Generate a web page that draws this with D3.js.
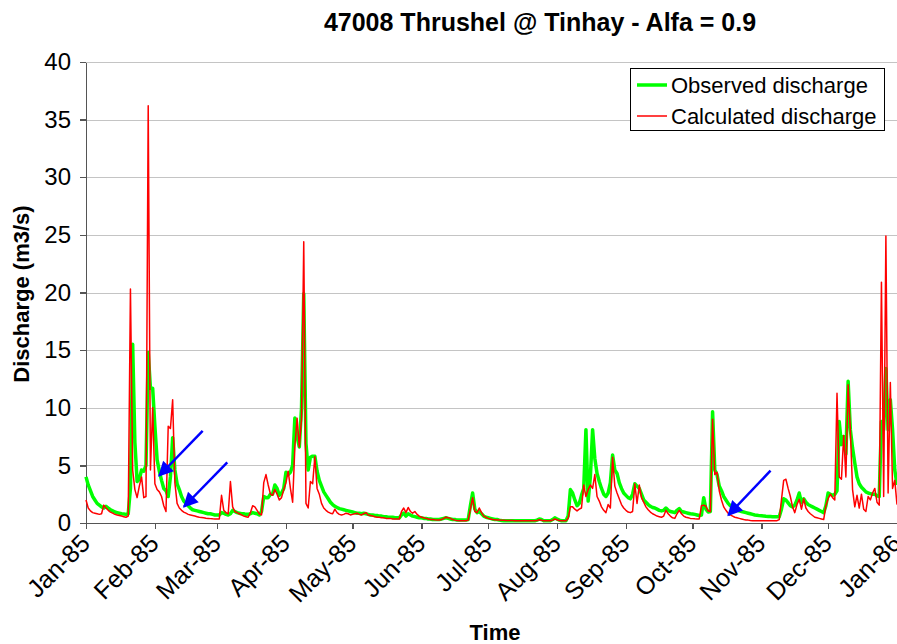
<!DOCTYPE html>
<html>
<head>
<meta charset="utf-8">
<title>47008 Thrushel @ Tinhay</title>
<script src="https://d3js.org/d3.v7.min.js"></script>
<style>
  body { margin: 0; background: #fff; }
  text { font-family: "Liberation Sans", Arial, sans-serif; fill: #000; }
  .grid line { stroke: #c4c4c4; stroke-width: 1px; shape-rendering: crispEdges; }
  .axis path, .axis line { stroke: #555; stroke-width: 1.3px; shape-rendering: crispEdges; }
  .line { fill: none; stroke-linejoin: round; }
</style>
</head>
<body>
<svg id="chart" width="897" height="644"></svg>
<script>
// daily values from 1 Jan 1985 (index 0) to 1 Jan 1986 (index 365)
const observed = [
  4.0, 3.3, 2.8, 2.3, 2.0, 1.7, 1.55, 1.4, 1.3, 1.45,
  1.3, 1.15, 1.05, 0.95, 0.9, 0.85, 0.8, 0.78, 0.75, 0.8,
  3.0, 15.5, 7.0, 3.6, 3.8, 4.6, 4.5, 5.0, 14.8, 11.7,
  11.7, 8.4, 5.5, 4.5, 3.7, 3.0, 2.8, 2.3, 4.0, 7.4,
  4.6, 3.4, 2.9, 2.3, 1.9, 1.7, 1.5, 1.3, 1.15, 1.1,
  1.05, 1.0, 0.95, 0.9, 0.85, 0.8, 0.8, 0.75, 0.7, 0.7,
  0.7, 0.9, 0.85, 0.75, 0.7, 0.8, 1.1, 1.0, 0.9, 0.85,
  0.8, 0.8, 0.75, 0.75, 0.8, 0.9, 0.85, 0.8, 0.7, 1.0,
  2.3, 2.2, 2.2, 2.5, 2.5, 3.3, 3.0, 2.4, 2.6, 3.0,
  4.4, 4.2, 4.4, 5.0, 9.1, 7.5, 6.6, 10.0, 19.9, 6.9,
  4.6, 5.7, 5.8, 5.8, 4.5, 3.7, 3.2, 2.7, 2.4, 2.1,
  1.8, 1.6, 1.45, 1.35, 1.25, 1.2, 1.15, 1.1, 1.05, 1.0,
  0.95, 0.9, 0.85, 0.85, 0.8, 0.85, 0.8, 0.75, 0.7, 0.7,
  0.65, 0.65, 0.6, 0.6, 0.55, 0.55, 0.5, 0.5, 0.5, 0.45,
  0.45, 0.45, 0.7, 0.85, 0.6, 0.8, 0.7, 0.6, 0.55, 0.5,
  0.45, 0.45, 0.4, 0.4, 0.35, 0.35, 0.3, 0.3, 0.3, 0.3,
  0.35, 0.4, 0.45, 0.4, 0.35, 0.3, 0.3, 0.25, 0.25, 0.25,
  0.25, 0.25, 0.3, 1.5, 2.6, 1.2, 0.9, 1.0, 0.8, 0.6,
  0.5, 0.45, 0.4, 0.35, 0.3, 0.3, 0.25, 0.22, 0.2, 0.2,
  0.2, 0.2, 0.2, 0.2, 0.2, 0.2, 0.2, 0.2, 0.2, 0.2,
  0.2, 0.2, 0.2, 0.25, 0.35, 0.3, 0.2, 0.2, 0.2, 0.2,
  0.3, 0.45, 0.35, 0.25, 0.2, 0.2, 0.2, 0.6, 2.9, 2.6,
  2.0, 1.5, 1.7, 2.4, 3.0, 8.1, 1.9, 4.0, 8.1, 5.6,
  4.3, 3.6, 3.0, 2.5, 2.3, 2.6, 3.5, 5.9, 4.6, 4.3,
  3.5, 3.0, 2.6, 2.4, 2.2, 2.1, 2.5, 3.4, 3.2, 3.0,
  2.5, 2.0, 1.8, 1.6, 1.45, 1.35, 1.3, 1.2, 1.1, 1.05,
  1.1, 1.3, 1.1, 1.0, 0.95, 0.9, 1.1, 1.25, 1.0, 0.95,
  0.9, 0.85, 0.8, 0.78, 0.75, 0.7, 0.65, 0.7, 2.2, 1.2,
  0.95, 1.0, 9.65, 4.6, 4.2, 3.2, 2.8, 2.3, 2.0, 1.7,
  1.5, 1.4, 1.25, 1.15, 1.05, 1.0, 0.95, 0.9, 0.85, 0.8,
  0.75, 0.7, 0.67, 0.64, 0.62, 0.6, 0.58, 0.57, 0.56, 0.55,
  0.55, 0.54, 0.55, 1.2, 2.1, 2.0, 1.75, 1.5, 1.4, 1.55,
  2.0, 2.6, 1.75, 2.1, 1.8, 1.6, 1.5, 1.4, 1.3, 1.2,
  1.1, 1.0, 0.9, 1.5, 2.6, 2.5, 2.4, 2.5, 2.8, 8.8,
  6.8, 7.5, 6.0, 12.3, 8.1, 6.5, 5.2, 4.0, 3.4, 3.1,
  2.9, 2.7, 2.6, 2.55, 2.5, 2.5, 2.35, 2.3, 8.8, 8.1,
  13.4, 8.1, 10.7, 8.1, 4.6, 3.3
];

const calculated = [
  2.0, 1.3, 1.05, 0.9, 0.85, 0.8, 0.75, 0.8, 1.55, 1.3,
  1.1, 0.95, 0.85, 0.75, 0.7, 0.65, 0.6, 0.55, 0.5, 0.6,
  20.3, 4.6, 2.9, 2.2, 3.2, 4.0, 2.2, 2.3, 36.2, 4.6,
  10.0, 3.4, 2.9, 2.7, 2.3, 1.5, 1.0, 8.4, 8.2, 10.7,
  3.5, 1.7, 1.3, 1.1, 0.95, 0.85, 0.75, 0.7, 0.65, 0.6,
  0.55, 0.5, 0.48, 0.45, 0.42, 0.4, 0.38, 0.36, 0.35, 0.34,
  0.35, 2.4, 1.1, 0.9, 0.8, 3.6, 1.4, 1.0, 0.9, 0.8,
  0.7, 0.6, 0.55, 0.5, 0.9, 1.5, 1.4, 1.1, 0.8, 0.7,
  3.5, 4.2, 3.3, 2.5, 2.4, 2.9, 2.5, 2.0, 2.2, 2.9,
  3.5, 4.5, 3.0, 1.8, 6.6, 9.1, 6.6, 9.0, 24.4, 1.7,
  1.3, 3.6, 3.4, 5.75, 3.0, 2.5, 1.7, 1.3, 1.1, 0.95,
  0.85, 0.8, 1.2, 0.9, 0.75, 0.7, 0.75, 0.85, 0.8, 0.7,
  0.75, 0.8, 0.85, 0.75, 0.7, 0.8, 0.9, 0.7, 0.65, 0.6,
  0.55, 0.5, 0.5, 0.45, 0.45, 0.4, 0.4, 0.4, 0.35, 0.35,
  0.35, 0.35, 1.0, 1.3, 0.9, 1.35, 1.0, 0.85, 1.0, 0.75,
  0.6, 0.5, 0.45, 0.4, 0.35, 0.3, 0.3, 0.28, 0.27, 0.26,
  0.3, 0.4, 0.5, 0.45, 0.4, 0.3, 0.25, 0.22, 0.2, 0.2,
  0.2, 0.2, 0.25, 1.2, 2.2, 1.0, 0.9, 1.3, 0.9, 0.6,
  0.5, 0.4, 0.35, 0.3, 0.28, 0.26, 0.25, 0.24, 0.23, 0.22,
  0.22, 0.21, 0.21, 0.2, 0.2, 0.2, 0.2, 0.2, 0.2, 0.2,
  0.2, 0.2, 0.2, 0.22, 0.28, 0.24, 0.2, 0.2, 0.2, 0.2,
  0.25, 0.35, 0.28, 0.22, 0.2, 0.2, 0.2, 0.4, 1.4, 1.4,
  1.2, 1.05, 1.2, 1.3, 3.3, 2.3, 2.9, 3.3, 3.0, 4.2,
  2.3, 1.9, 1.4, 1.1, 0.9, 1.6, 1.3, 5.7, 3.2, 2.6,
  2.1, 1.6, 1.3, 1.1, 0.95, 0.9, 1.0, 3.4, 1.7, 3.3,
  2.2, 1.8, 1.4, 1.15, 0.95, 0.8, 0.7, 0.6, 0.55, 0.5,
  0.6, 1.1, 0.8, 0.6, 0.45, 0.4, 0.8, 1.1, 0.8, 0.6,
  0.5, 0.45, 0.4, 0.38, 0.36, 0.35, 0.35, 1.5, 1.55, 1.45,
  1.05, 1.0, 9.0, 4.2, 4.4, 2.8, 2.0, 1.4, 1.1, 0.85,
  0.7, 0.6, 0.5, 0.45, 0.4, 0.35, 0.3, 0.27, 0.25, 0.22,
  0.2, 0.2, 0.2, 0.2, 0.2, 0.2, 0.2, 0.2, 0.2, 0.2,
  0.2, 0.2, 0.3, 2.0, 3.7, 3.8, 3.0, 2.3, 1.4, 0.9,
  1.6, 2.05, 1.2, 2.1, 1.3, 1.0, 0.8, 0.65, 0.5, 0.45,
  0.4, 0.35, 0.3, 1.5, 2.1, 2.5, 2.2, 2.0, 11.25, 4.0,
  3.8, 7.6, 4.0, 12.0, 8.1, 2.9, 1.4, 2.4, 1.3, 2.5,
  1.2, 1.0, 2.3, 2.0, 2.6, 3.0, 1.8, 1.55, 20.9, 2.3,
  24.9, 2.6, 12.2, 3.0, 3.7, 1.6
];

const seriesNames = ['Observed discharge', 'Calculated discharge'];
const yTicks = [0, 5, 10, 15, 20, 25, 30, 35, 40];

// blue annotation arrows: [start day, start value, tip day, tip value]
const arrows = [
  [52.5, 8.0, 32.9, 4.1],
  [63.6, 5.26, 44.1, 1.41],
  [308.1, 4.54, 289.1, 0.69]
];

const svg = d3.select('#chart');
const plotLeft = 86, plotRight = 897, plotTop = 62, plotBottom = 523;
const start = new Date(1985, 0, 1);
const dayDate = i => d3.timeDay.offset(start, i);
const fracDate = d => d3.timeHour.offset(start, Math.round(d * 24));
const fontFamily = '"Liberation Sans", Arial, sans-serif';

const x = d3.scaleTime().domain([start, new Date(1986, 0, 1)]).range([plotLeft, plotRight]);
const y = d3.scaleLinear().domain([0, 40]).range([plotBottom, plotTop]);

// horizontal grid
svg.append('g').attr('class', 'grid')
  .selectAll('line').data(yTicks.filter(d => d > 0)).join('line')
  .attr('x1', plotLeft).attr('x2', plotRight)
  .attr('y1', d => Math.round(y(d)) + 0.5).attr('y2', d => Math.round(y(d)) + 0.5);

// y axis
const yAxis = svg.append('g').attr('class', 'axis')
  .attr('transform', `translate(${plotLeft},0)`)
  .call(d3.axisLeft(y).tickValues(yTicks).tickSize(6).tickSizeOuter(0).tickPadding(9));
yAxis.selectAll('text')
  .style('font-size', '24px').style('font-family', fontFamily);

// x axis
const xAxis = svg.append('g').attr('class', 'axis')
  .attr('transform', `translate(0,${plotBottom})`)
  .call(d3.axisBottom(x).ticks(d3.timeMonth.every(1)).tickFormat(d3.timeFormat('%b-%y'))
    .tickSize(6).tickSizeOuter(0));
xAxis.selectAll('text')
  .style('font-size', '25px')
  .style('font-family', fontFamily)
  .attr('text-anchor', 'end')
  .attr('dy', null)
  .attr('y', null)
  .attr('transform', 'translate(5,22) rotate(-45)');

// series lines
const line = d3.line().x((d, i) => x(dayDate(i))).y(d => y(d));
svg.append('path').datum(observed).attr('class', 'line')
  .attr('stroke', '#00ff00').attr('stroke-width', 3.5).attr('d', line);
svg.append('path').datum(calculated).attr('class', 'line')
  .attr('stroke', '#ff0000').attr('stroke-width', 1.5).attr('d', line);

// arrows
svg.append('defs').append('marker')
  .attr('id', 'head').attr('viewBox', '0 0 10 10')
  .attr('refX', 9).attr('refY', 5)
  .attr('markerWidth', 7).attr('markerHeight', 6)
  .attr('markerUnits', 'strokeWidth')
  .attr('orient', 'auto')
  .append('path').attr('d', 'M0,0L10,5L0,10Z').attr('fill', '#0000ff');
svg.append('g').selectAll('line').data(arrows).join('line')
  .attr('x1', d => x(fracDate(d[0]))).attr('y1', d => y(d[1]))
  .attr('x2', d => x(fracDate(d[2]))).attr('y2', d => y(d[3]))
  .attr('stroke', '#0000ff').attr('stroke-width', 2.5)
  .attr('marker-end', 'url(#head)');

// legend
const legend = svg.append('g');
legend.append('rect').attr('x', 630.5).attr('y', 68.5).attr('width', 254).attr('height', 62)
  .attr('fill', '#fff').attr('stroke', '#000').attr('stroke-width', 1);
const legColors = ['#00ff00', '#ff0000'];
const legWidths = [3.5, 1.5];
seriesNames.forEach((name, i) => {
  const ly = 85 + i * 31;
  legend.append('line').attr('x1', 637).attr('x2', 667).attr('y1', ly).attr('y2', ly)
    .attr('stroke', legColors[i]).attr('stroke-width', legWidths[i]);
  legend.append('text').attr('x', 671).attr('y', ly + 8)
    .style('font-size', '22px').text(name);
});

// titles
svg.append('text').attr('x', 540).attr('y', 31).attr('text-anchor', 'middle')
  .style('font-size', '25px').style('font-weight', 'bold')
  .text('47008 Thrushel @ Tinhay - Alfa = 0.9');
svg.append('text').attr('x', 495).attr('y', 640).attr('text-anchor', 'middle')
  .style('font-size', '22px').style('font-weight', 'bold').text('Time');
svg.append('text').attr('transform', 'translate(29,294) rotate(-90)').attr('text-anchor', 'middle')
  .style('font-size', '22px').style('font-weight', 'bold').text('Discharge (m3/s)');
</script>
</body>
</html>
